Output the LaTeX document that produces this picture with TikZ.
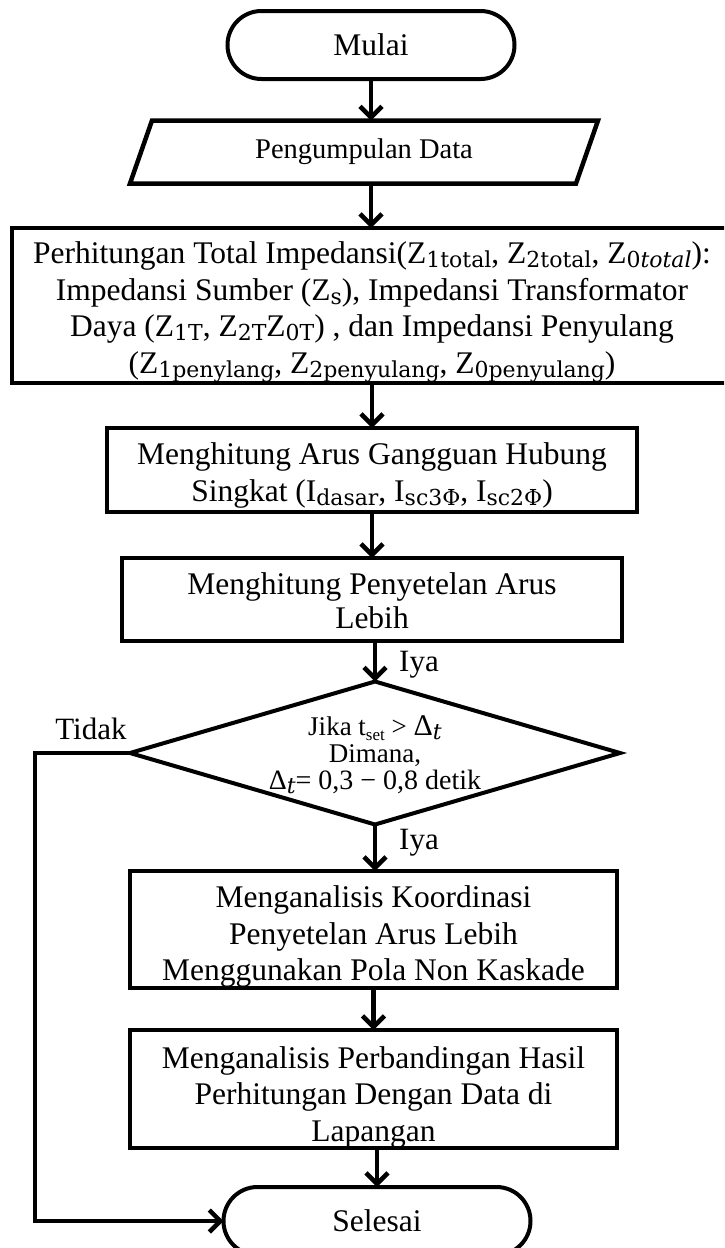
\documentclass[tikz,border=0pt]{standalone}
\usepackage{fontspec}
\setmainfont{Liberation Serif}
\newfontfamily\mathlike{DejaVu Serif}
\usetikzlibrary{arrows.meta,calc}
\newcommand{\sbs}[1]{\raisebox{-0.3ex}{\mathlike\fontsize{22}{22}\selectfont #1}}
\newcommand{\sbd}[1]{\raisebox{-0.35ex}{\fontsize{17}{17}\selectfont #1}}
\newcommand{\strt}[1]{\rule{0pt}{#1}}
\begin{document}
\begin{tikzpicture}[x=1pt,y=-1pt,
  box/.style={draw, line width=4.5pt, align=center, outer sep=0pt, inner sep=0pt, font=\fontsize{31.5}{36.5}\selectfont},
  term/.style={draw, line width=4pt, rounded corners=34pt, align=center, outer sep=0pt, inner sep=0pt, font=\fontsize{31.5}{36}\selectfont},
  plain/.style={align=center, outer sep=0pt, inner sep=0pt},
  lbl/.style={inner sep=0pt, font=\fontsize{31}{36}\selectfont},
  arr/.style={line width=4.5pt, -{Straight Barb[length=11pt,width=22pt]}}]
\useasboundingbox (0,0) rectangle (724,1248);
\clip (0,0) rectangle (724,1248);

\node[term, minimum width=287pt, minimum height=68pt] (mulai) at (371,45) {Mulai};

\node[plain, font=\fontsize{28.5}{33}\selectfont, minimum width=446pt, minimum height=63pt] (data) at (364,152) {Pengumpulan Data};
\draw[line width=4.5pt] ($(data.north west)+(11,0)$) -- ($(data.north east)+(11,0)$) -- ($(data.south east)+(-11,0)$) -- ($(data.south west)+(-11,0)$) -- cycle;

\node[box, minimum width=720pt, minimum height=155pt] (b1) at (372,305.5) {\strt{35pt}Perhitungan Total Impedansi(Z\sbs{1total}, Z\sbs{2total}, Z\sbs{0\textit{total}}):\\
Impedansi Sumber (Z\sbs{s}), Impedansi Transformator\\
Daya (Z\sbs{1T}, Z\sbs{2T}Z\sbs{0T}) , dan Impedansi Penyulang\\
(Z\sbs{1penylang}, Z\sbs{2penyulang}, Z\sbs{0penyulang})};

\node[box, minimum width=530pt, minimum height=84pt] (b2) at (372,470) {\strt{33pt}Menghitung Arus Gangguan Hubung\\
Singkat (I\sbs{dasar}, I\sbs{sc3Φ}, I\sbs{sc2Φ})};

\node[box, minimum width=500pt, minimum height=83pt, font=\fontsize{31.5}{34}\selectfont] (b3) at (372,599.5) {\strt{24pt}Menghitung Penyetelan Arus\\ Lebih};

\node[plain, font=\fontsize{27}{27}\selectfont, minimum width=490pt, minimum height=143pt] (dia) at (375,753) {\strt{24pt}Jika t\sbd{set} > {\fontsize{30}{30}\selectfont Δ}\sbs{\textit{t}}\\ Dimana,\\ {\fontsize{28}{27}\selectfont Δ\sbs{\textit{t}}= 0,3 − 0,8 detik}};
\draw[line width=4pt] (dia.north) -- (dia.east) -- (dia.south) -- (dia.west) -- cycle;

\node[box, minimum width=487pt, minimum height=117pt] (b4) at (373.5,929.5) {\strt{36pt}Menganalisis Koordinasi\\ Penyetelan Arus Lebih\\ Menggunakan Pola Non Kaskade};

\node[box, minimum width=487pt, minimum height=118pt] (b5) at (373.5,1089) {\strt{38pt}Menganalisis Perbandingan Hasil\\ Perhitungan Dengan Data di\\ Lapangan};

\node[term, minimum width=307pt, minimum height=68pt] (sel) at (377,1221) {Selesai};

\node[lbl, anchor=west] (iya1) at (399,665) {Iya};
\node[lbl, anchor=west] (iya2) at (399,843) {Iya};
\node[lbl] (tidak) at (91,729) {Tidak};
\coordinate (lft) at (35,0);

\draw[arr] (mulai.south) -- (mulai.south |- data.north);
\draw[arr] (mulai.south |- data.south) -- (mulai.south |- b1.north);
\draw[arr] (b1.south) -- (b1.south |- b2.north);
\draw[arr] (b2.south) -- (b2.south |- b3.north);
\draw[arr] (dia.north |- b3.south) -- (dia.north);
\draw[arr] (dia.south) -- (dia.south |- b4.north);
\draw[arr] (b4.south) -- (b4.south |- b5.north);
\draw[arr] (sel.north |- b5.south) -- (sel.north);
\draw[arr] (dia.west) -- (dia.west -| lft) |- (sel.west);
\end{tikzpicture}
\end{document}
